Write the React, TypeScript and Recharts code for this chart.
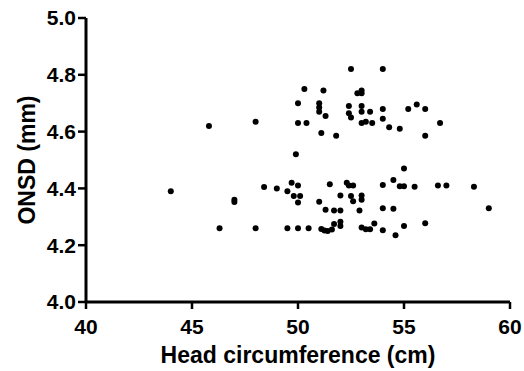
import { Label, Scatter, ScatterChart, XAxis, YAxis } from "recharts";

// head circumference (cm) / ONSD (mm)
const upperHC = [
  45.8, 48.0, 50.0, 50.0, 49.9, 50.3, 50.4, 51.0, 51.0, 51.0, 51.3, 51.2, 51.1, 51.8,
  52.4, 52.4, 52.5, 52.5, 52.8, 53.0, 53.0, 53.0, 53.0, 53.0, 53.2, 53.4, 53.5, 54.0,
  54.0, 54.0, 54.3, 54.8, 55.2, 55.6, 56.0, 56.0, 56.7, 55.0,
];
const upperONSD = [
  4.62, 4.635, 4.7, 4.63, 4.52, 4.75, 4.63, 4.7, 4.685, 4.67, 4.655, 4.745, 4.595, 4.585,
  4.69, 4.665, 4.65, 4.82, 4.735, 4.745, 4.735, 4.69, 4.67, 4.63, 4.635, 4.67, 4.63, 4.82,
  4.68, 4.645, 4.615, 4.61, 4.68, 4.695, 4.68, 4.585, 4.63, 4.47,
];
const lowerHC = [
  44.0, 47.0, 47.0, 46.3, 48.0, 48.4, 49.0, 49.5, 49.7, 50.0, 49.8, 50.1, 50.0, 49.5,
  50.0, 50.5, 51.0, 51.5, 52.3, 52.4, 52.6, 52.0, 52.5, 53.0, 53.0, 52.6, 51.3, 51.7,
  52.0, 52.9, 51.1, 51.25, 51.4, 51.6, 51.7, 52.0, 52.0, 53.0, 53.2, 53.4, 53.6, 54.0,
  54.6, 55.0, 56.0, 54.0, 54.5, 59.0, 54.0, 54.5, 54.8, 55.0, 55.5, 56.6, 57.0, 58.3,
];
const lowerONSD = [
  4.39, 4.36, 4.352, 4.26, 4.26, 4.405, 4.4, 4.39, 4.42, 4.41, 4.373, 4.373, 4.35, 4.26,
  4.26, 4.26, 4.353, 4.415, 4.42, 4.41, 4.41, 4.375, 4.373, 4.375, 4.36, 4.355, 4.325, 4.322,
  4.322, 4.322, 4.257, 4.252, 4.25, 4.255, 4.275, 4.283, 4.268, 4.262, 4.256, 4.256, 4.276, 4.253,
  4.235, 4.268, 4.277, 4.33, 4.328, 4.33, 4.412, 4.43, 4.408, 4.408, 4.406, 4.41, 4.41, 4.406,
];

const xTicks = [40, 45, 50, 55, 60];
const yTicks = [4.0, 4.2, 4.4, 4.6, 4.8, 5.0];

const data = [
  ...upperHC.map((hc, i) => ({ hc, onsd: upperONSD[i] })),
  ...lowerHC.map((hc, i) => ({ hc, onsd: lowerONSD[i] })),
];

const FONT = "Arial, 'Liberation Sans', sans-serif";
const tickStyle = { fill: "#000", fontSize: 21, fontWeight: "bold", fontFamily: FONT };
const titleStyle = { fill: "#000", fontSize: 23, fontWeight: "bold", fontFamily: FONT };

const Dot = (props: any) => <circle cx={props.cx} cy={props.cy} r={3} fill="#000" />;

export default function App() {
  return (
    <div style={{ position: "absolute", left: 0, top: 0, background: "#fff" }}>
      <ScatterChart width={524} height={371} margin={{ top: 18, right: 14, left: 0, bottom: 0 }}>
        <XAxis
          type="number"
          dataKey="hc"
          domain={[40, 60]}
          ticks={xTicks}
          height={69}
          axisLine={{ stroke: "#000", strokeWidth: 3 }}
          tickLine={{ stroke: "#000", strokeWidth: 2.5 }}
          tickSize={7}
          tickMargin={10}
          tick={tickStyle}
        >
          <Label value="Head circumference (cm)" position="insideBottom" offset={8} style={titleStyle} />
        </XAxis>
        <YAxis
          type="number"
          dataKey="onsd"
          domain={[4, 5]}
          ticks={yTicks}
          width={86}
          axisLine={{ stroke: "#000", strokeWidth: 3 }}
          tickLine={{ stroke: "#000", strokeWidth: 2.5 }}
          tickSize={8}
          tickMargin={2}
          tick={tickStyle}
          tickFormatter={(v: number) => v.toFixed(1)}
        >
          <Label
            value="ONSD (mm)"
            angle={-90}
            position="insideLeft"
            offset={27}
            style={{ ...titleStyle, textAnchor: "middle" }}
          />
        </YAxis>
        <Scatter data={data} shape={Dot} isAnimationActive={false} />
      </ScatterChart>
    </div>
  );
}
